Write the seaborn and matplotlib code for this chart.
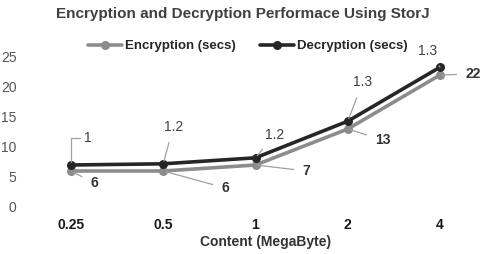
import matplotlib
matplotlib.use("Agg")
import matplotlib.pyplot as plt
import seaborn as sns
import pandas as pd
import numpy as np

sizes = ["0.25", "0.5", "1", "2", "4"]
encryption = [6, 6, 7, 13, 22]
decryption = [7, 7.2, 8.2, 14.3, 23.3]
encryption_labels = ["6", "6", "7", "13", "22"]
decryption_labels = ["1", "1.2", "1.2", "1.3", "1.3"]
series_names = ["Encryption (secs)", "Decryption (secs)"]

pos = np.arange(len(sizes))
df = pd.DataFrame({
    "pos": np.concatenate([pos, pos]),
    "value": encryption + decryption,
    "series": [series_names[0]] * len(sizes) + [series_names[1]] * len(sizes),
})

sns.set_theme(style="white")
plt.rcParams["font.family"] = ["Liberation Sans", "DejaVu Sans"]

W, H = 480, 254
fig = plt.figure(figsize=(4.8, 2.54), dpi=100)
ax = fig.add_axes([22 / W, 1 - 207 / H, 1 - 22 / W, (207 - 51) / H])

palette = {series_names[0]: "#8c8c8c", series_names[1]: "#262626"}
sns.lineplot(data=df, x="pos", y="value", hue="series", palette=palette,
             marker="o", markersize=6.5, linewidth=2.6, markeredgewidth=0,
             ax=ax, legend=True)

ax.set_xlim((22 - 71) / 92.25, (480 - 71) / 92.25)
ax.set_ylim(0, 26)
ax.set_yticks([0, 5, 10, 15, 20, 25])
ax.set_xticks(pos)
ax.set_xticklabels(sizes, fontweight="bold", fontsize=10, color="#1a1a1a")
ax.tick_params(axis="x", length=0, pad=8)
ax.tick_params(axis="y", length=0, pad=4, labelsize=10, labelcolor="#555555")
for s in ax.spines.values():
    s.set_visible(False)
ax.set_ylabel("")
ax.set_xlabel("Content (MegaByte)", fontweight="bold", fontsize=10, color="#333333")
ax.xaxis.set_label_coords((266 - 22) / (W - 22), -(242 - 207) / (207 - 51), transform=ax.transAxes)
ax.xaxis.label.set_va("center")

handles, labels = ax.get_legend_handles_labels()
ax.legend_.remove()
leg = fig.legend(handles, labels, loc="center", bbox_to_anchor=(0.516, 1 - 46 / H),
                 ncol=2, frameon=False, prop={"weight": "bold", "size": 9.5},
                 handlelength=2.6, columnspacing=1.8, handletextpad=0.2)
for t in leg.get_texts():
    t.set_color("#262626")

fig.text(0.505, 1 - 14 / H, "Encryption and Decryption Performace Using StorJ",
         ha="center", va="center", fontsize=11, fontweight="bold", color="#404040")

dec_off = [(17, 27), (10, 37), (19, 23), (15, 39), (-12, 16)]
enc_off = [(23, -12), (62, -17), (51, -6), (35, -11), (33, 1)]
for i in range(len(sizes)):
    cs = "angle,angleA=180,angleB=90,rad=0" if i == 0 else "arc3"
    ax.annotate(decryption_labels[i], (pos[i], decryption[i]), xytext=dec_off[i],
                textcoords="offset pixels", ha="center", va="center", fontsize=10,
                color="#404040",
                arrowprops=dict(arrowstyle="-", color="#a0a0a0", lw=0.9,
                                shrinkA=1 if i == 0 else 4, shrinkB=2,
                                connectionstyle=cs))
    ax.annotate(encryption_labels[i], (pos[i], encryption[i]), xytext=enc_off[i],
                textcoords="offset pixels", ha="center", va="center", fontsize=10,
                fontweight="bold", color="#333333",
                arrowprops=dict(arrowstyle="-", color="#a0a0a0", lw=0.9,
                                shrinkA=4, shrinkB=2, connectionstyle="arc3"))

fig.savefig("out.png", dpi=100)
